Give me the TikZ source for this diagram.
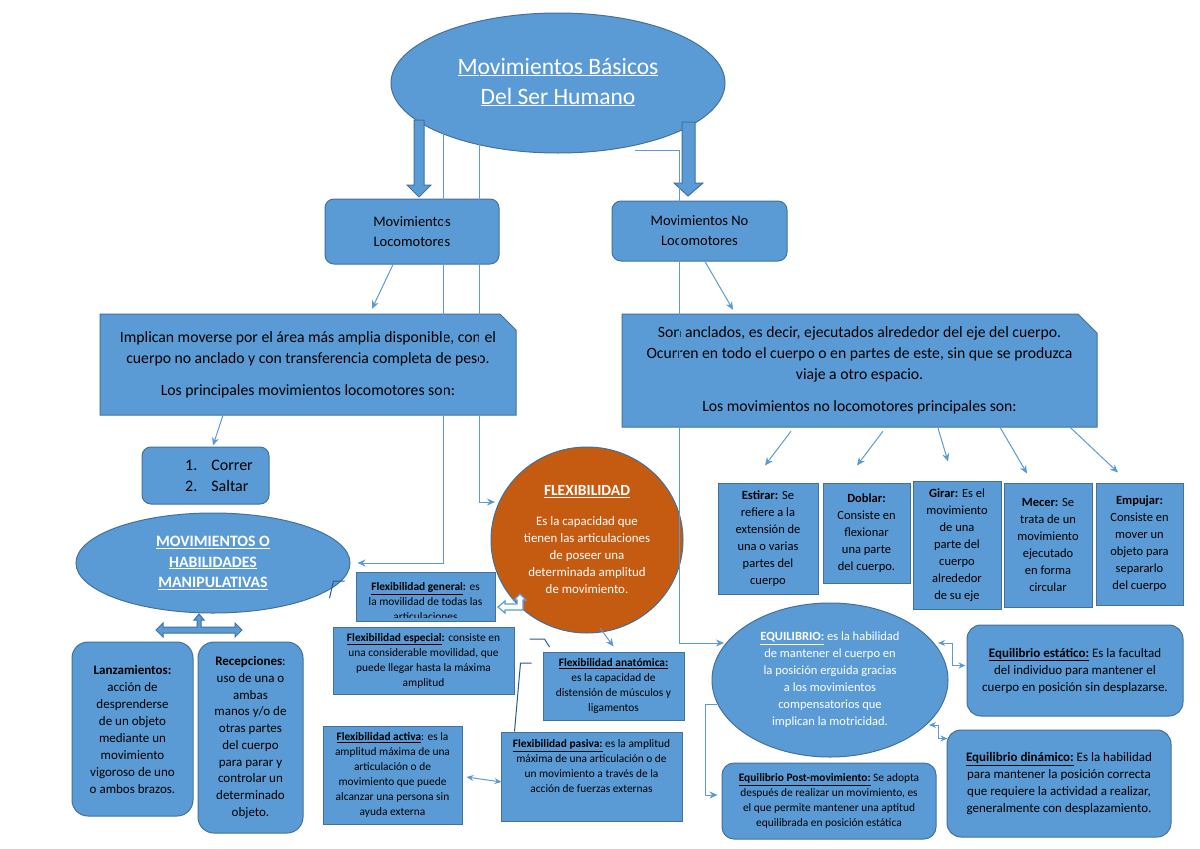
\documentclass[tikz,border=0pt]{standalone}
\usepackage{fontspec}
\setmainfont{Carlito}
\usetikzlibrary{shapes.geometric,arrows.meta,calc}
\definecolor{fillb}{HTML}{5B9BD5}
\definecolor{bord}{HTML}{41719C}
\definecolor{link}{HTML}{5B9BD5}
\definecolor{orng}{HTML}{C55A11}
\definecolor{dline}{HTML}{2F5597}
\begin{document}
\begin{tikzpicture}[x=1pt,y=-1pt,
 box/.style={draw=bord,fill=fillb,line width=1pt,inner sep=0pt,align=center,text=black},
 rbox/.style={box,rounded corners=9pt},
 ell/.style={ellipse,draw=bord,fill=fillb,line width=1pt,inner sep=0pt,align=center,text=white},
 conn/.style={draw=link,line width=1pt,-{Stealth[length=8pt,width=7pt]}},
 dconn/.style={draw=link,line width=1pt,{Stealth[length=7pt,width=6pt]}-{Stealth[length=7pt,width=6pt]}},
 stray/.style={draw=dline,line width=1pt},
 blockarrow/.style={draw=bord,fill=fillb,line width=1pt,line join=miter},
 fbig/.style={font=\fontsize{15.7}{21}\selectfont},
 fmid/.style={font=\fontsize{12.5}{17}\selectfont},
 fsmall/.style={font=\fontsize{11.4}{15}\selectfont},
]
\useasboundingbox (0,0) rectangle (1200,849);
\fill[white] (0,0) rectangle (1200,849);

% title
\node[ell,minimum width=334pt,minimum height=140pt,font=\fontsize{23.5}{30}\selectfont] (title) at (558,83) {\raisebox{4pt}{\underline{Movimientos Básicos}}\\\raisebox{4pt}{\underline{Del Ser Humano}}};
\draw[blockarrow] (414,120) -- (424,120) -- (424,185) -- (431,185) -- (419,197) -- (407,185) -- (414,185) -- cycle;
\draw[blockarrow] (682,122) -- (695,122) -- (695,183) -- (703,183) -- (688,196) -- (674,183) -- (682,183) -- cycle;

\node[rbox,minimum width=174pt,minimum height=65pt,font=\fontsize{14.5}{20}\selectfont] (loc) at (412,231.5) {Movimientos\\Locomotores};
\node[rbox,minimum width=175pt,minimum height=60pt,font=\fontsize{14.5}{20}\selectfont] (noloc) at (699.5,231) {Movimientos No\\Locomotores};

% big boxes
\filldraw[draw=bord,fill=fillb,line width=1pt] (100,314) -- (500,314) -- (516,330) -- (516,415) -- (100,415) -- cycle;
\node[inner sep=0pt,minimum width=416pt,minimum height=101pt,align=center,fbig] (L) at (308,364.5) {Implican moverse por el área más amplia disponible, con el\\cuerpo no anclado y con transferencia completa de peso.\\[11pt]Los principales movimientos locomotores son:};
\filldraw[draw=bord,fill=fillb,line width=1pt] (622,314) -- (1078,314) -- (1097,333) -- (1097,427) -- (622,427) -- cycle;
\node[inner sep=0pt,minimum width=475pt,minimum height=113pt,align=center,fbig] (R) at (859.5,370.5) {Son anclados, es decir, ejecutados alrededor del eje del cuerpo.\\Ocurren en todo el cuerpo o en partes de este, sin que se produzca\\viaje a otro espacio.\\[11pt]Los movimientos no locomotores principales son:};

% correr
\node[rbox,minimum width=127pt,minimum height=57pt] (correr) at (205.5,475.5) {};
\node[anchor=west,align=left,inner sep=0pt,font=\fontsize{16}{21}\selectfont] (correrT) at (185,476) {1.\hspace{14pt}Correr\\2.\hspace{14pt}Saltar};

% five boxes
\node[box,minimum width=100pt,minimum height=111pt,fmid] (estirar) at (768,538.5) {\textbf{Estirar:} Se\\refiere a la\\extensión de\\una o varias\\partes del\\cuerpo};
\node[box,minimum width=87pt,minimum height=100pt,fmid] (doblar) at (866.5,533) {\textbf{Doblar:}\\Consiste en\\flexionar\\una parte\\del cuerpo.};
\node[box,minimum width=88pt,minimum height=128pt,fmid] (girar) at (957,545) {\textbf{Girar:} Es el\\movimiento\\de una\\parte del\\cuerpo\\alrededor\\de su eje};
\node[box,minimum width=88pt,minimum height=124pt,fmid] (mecer) at (1048,545) {\textbf{Mecer:} Se\\trata de un\\movimiento\\ejecutado\\en forma\\circular};
\node[box,minimum width=87pt,minimum height=122pt,fmid] (empujar) at (1139.5,544) {\textbf{Empujar:}\\Consiste en\\mover un\\objeto para\\separarlo\\del cuerpo};

% manipulative
\node[ell,minimum width=274pt,minimum height=100pt,font=\bfseries\fontsize{15.8}{20.5}\selectfont] (movh) at (213,563) {\underline{MOVIMIENTOS O}\\\underline{HABILIDADES}\\\underline{MANIPULATIVAS}};
\draw[blockarrow] (156,630) -- (163,623) -- (163,627) -- (197,627) -- (197,620) -- (194,620) -- (199,614) -- (204,620) -- (201,620) -- (201,627) -- (235,627) -- (235,623) -- (242,630) -- (235,637) -- (235,633) -- (163,633) -- (163,637) -- cycle;
\node[rbox,rounded corners=16pt,minimum width=121pt,minimum height=174pt,font=\fontsize{13}{17}\selectfont] (lanz) at (132.5,729) {\textbf{Lanzamientos:}\\acción de\\desprenderse\\de un objeto\\mediante un\\movimiento\\vigoroso de uno\\o ambos brazos.};
\node[rbox,rounded corners=16pt,minimum width=105pt,minimum height=191pt,font=\fontsize{13}{16.7}\selectfont] (recep) at (250.5,737.5) {\textbf{Recepciones}:\\uso de una o\\ambas\\manos y/o de\\otras partes\\del cuerpo\\para parar y\\controlar un\\determinado\\objeto.};

% flexibilidad
\node[ell,fill=orng,minimum width=192pt,minimum height=186pt,font=\fontsize{12.9}{17}\selectfont] (flex) at (587,540) {{\fontsize{15.5}{17}\selectfont\textbf{\underline{FLEXIBILIDAD}}}\\[13pt]Es la capacidad que\\tienen las articulaciones\\de poseer una\\determinada amplitud\\de movimiento.};
\node[box,minimum width=139pt,minimum height=49pt,path picture={\clip ([yshift=4pt]path picture bounding box.south west) rectangle (path picture bounding box.north east);\node[draw=none,fill=none,align=center,text=black,inner sep=0pt,font=\fontsize{11.4}{15}\selectfont] at ([yshift=-5pt]path picture bounding box.center) {\textbf{\underline{Flexibilidad general}:} es\\la movilidad de todas las\\articulaciones};}] (fgen) at (425.5,596.5) {};
\draw[draw=link,fill=white,line width=1.2pt,line join=miter] (498,607) -- (505,601) -- (505,604) -- (517,604) -- (517,600) -- (514,600) -- (520,594) -- (526,600) -- (523,600) -- (523,610) -- (505,610) -- (505,613) -- cycle;
\node[box,minimum width=181pt,minimum height=67pt,fsmall] (fesp) at (423.5,660.5) {\textbf{\underline{Flexibilidad especial}:} consiste en\\una considerable movilidad, que\\puede llegar hasta la máxima\\amplitud};
\node[box,minimum width=141pt,minimum height=68pt,fsmall] (fanat) at (613.5,686) {\textbf{\underline{Flexibilidad anatómica:}}\\es la capacidad de\\distensión de músculos y\\ligamentos};
\node[box,minimum width=139pt,minimum height=98pt,fsmall] (factiva) at (392.5,775) {\textbf{\underline{Flexibilidad activa}}: es la\\amplitud máxima de una\\articulación o de\\movimiento que puede\\alcanzar una persona sin\\ayuda externa};
\node[box,minimum width=181pt,minimum height=89pt,fsmall] (fpasiva) at (591.5,776.5) {\textbf{\underline{Flexibilidad pasiva:}} es la amplitud\\máxima de una articulación o de\\un movimiento a través de la\\acción de fuerzas externas\\[6pt]};

% equilibrio
\node[ell,minimum width=236pt,minimum height=154pt,fmid] (equi) at (830,680) {\textbf{\underline{EQUILIBRIO:}} es la habilidad\\de mantener el cuerpo en\\la posición erguida gracias\\a los movimientos\\compensatorios que\\implican la motricidad.};
\node[rbox,rounded corners=14pt,minimum width=216pt,minimum height=91pt,font=\fontsize{13}{17}\selectfont] (estat) at (1075,670.5) {\textbf{\underline{Equilibrio estático:}} Es la facultad\\del individuo para mantener el\\cuerpo en posición sin desplazarse.};
\node[rbox,rounded corners=14pt,minimum width=224pt,minimum height=107pt,font=\fontsize{13}{16.7}\selectfont] (din) at (1059,783.5) {\textbf{\underline{Equilibrio dinámico:}} Es la habilidad\\para mantener la posición correcta\\que requiere la actividad a realizar,\\generalmente con desplazamiento.};
\node[rbox,rounded corners=12pt,minimum width=214pt,minimum height=76pt,fsmall] (post) at (829,801) {\textbf{\underline{Equilibrio Post-movimiento:}} Se adopta\\después de realizar un movimiento, es\\el que permite mantener una aptitud\\equilibrada en posición estática};

% connectors
\draw[conn] ($(loc.south)+(-19,0)$) -- ($(L.north)+(64,-5)$);
\draw[conn] ($(noloc.south)+(5.5,0)$) -- ($(R.north)+(-126.5,-4)$);
\draw[conn] ($(L.south)+(-85,0)$) -- ($(correr.north)+(7.5,-1)$);
\draw[conn] ($(R.south)+(-68.5,4)$) -- ($(estirar.north)+(-3,-17)$);
\draw[conn] ($(R.south)+(23.5,4)$) -- ($(doblar.north)+(-9.5,-17)$);
\draw[conn] ($(R.south)+(78.5,1)$) -- ($(girar.north)+(-9,-19)$);
\draw[conn] ($(R.south)+(140.5,0)$) -- ($(mecer.north)+(-21,-9)$);
\draw[conn] ($(R.south)+(210.5,0)$) -- ($(empujar.north)+(-21.5,-10)$);

\draw[conn] ($(title.center)+(-79,-11)$) |- ($(flex.center)+(-92,-38)$);
\draw[conn] ($(title.center)+(-79,16)$) -- ++(-36,0) |- ($(movh.east)+(7,0)$);
\draw[conn] ($(title.center)+(77,67)$) -- ++(44,0) |- ($(equi.center)+(-106,-37)$);

\draw[conn] ($(flex.center)+(13,88)$) -- ($(fanat.north)+(0,-5)$);
\draw[dconn] ($(factiva.east)+(4,2)$) -- ($(fpasiva.west)+(1,5.5)$);
\draw[conn] ($(equi.center)+(-113,24)$) -- ++(-12,0) |- ($(post.west)+(-4,-6)$);
\draw[dconn] ($(equi.center)+(108,-37)$) -- ++(14,0) |- ($(estat.west)+(-1,-5)$);
\draw[dconn] ($(equi.center)+(99,45)$) -- ++(9,0) |- ($(din.north west)+(1,9)$);

% stray connector fragments
\draw[stray] ($(movh.east)+(-21,35)$) -- ++(4,-17) -- ++(11,0);
\draw[stray] ($(fesp.east)+(15,-21.5)$) -- ++(15,0) -- ++(5,8);
\draw[stray] ($(fesp.east)+(17,2.5)$) -- ++(-11,0) -- ($(fpasiva.north west)+(14,0)$);
\end{tikzpicture}
\end{document}
